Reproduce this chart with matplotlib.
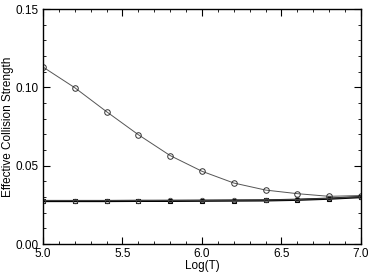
import matplotlib
matplotlib.use("Agg")
from matplotlib import pyplot as plt
from matplotlib.ticker import MultipleLocator

logt = [5.0, 5.2, 5.4, 5.6, 5.8, 6.0, 6.2, 6.4, 6.6, 6.8, 7.0]
ups_a = [0.113, 0.0998, 0.0845, 0.0698, 0.0565, 0.0465, 0.0390, 0.0345, 0.0322, 0.0305, 0.0310]
ups_b = [0.0275, 0.0275, 0.0275, 0.0276, 0.0276, 0.0277, 0.0278, 0.0279, 0.0283, 0.0290, 0.0300]
ups_c = [0.0278, 0.0278, 0.0278, 0.0278, 0.0279, 0.0279, 0.0280, 0.0281, 0.0285, 0.0292, 0.0302]

plt.rcParams['font.family'] = ['Liberation Sans', 'DejaVu Sans']

fig = plt.figure(figsize=(3.74, 2.74), dpi=100)
ax = fig.add_axes([0.115, 0.109, 0.85, 0.858])

ax.plot(logt, ups_a, color='#555555', lw=0.7, marker='o', ms=4,
        mfc='none', mec='#333333', mew=0.7)
ax.plot(logt, ups_b, color='black', lw=1.6, marker='s', ms=3.2,
        mfc='none', mec='black', mew=0.8)
ax.plot(logt, ups_c, color='#444444', lw=0.7, marker='o', ms=3.2,
        mfc='none', mec='#444444', mew=0.6)

ax.set_xlim(5.0, 7.0)
ax.set_ylim(0.0, 0.15)
ax.xaxis.set_major_locator(MultipleLocator(0.5))
ax.xaxis.set_minor_locator(MultipleLocator(0.1))
ax.yaxis.set_major_locator(MultipleLocator(0.05))
ax.yaxis.set_minor_locator(MultipleLocator(0.01))
ax.xaxis.set_major_formatter(plt.FormatStrFormatter('%.1f'))
ax.yaxis.set_major_formatter(plt.FormatStrFormatter('%.2f'))
ax.tick_params(which='both', direction='in', top=True, right=True, labelsize=8.5, pad=3)
ax.tick_params(which='major', length=5, width=0.8)
ax.tick_params(which='minor', length=2.5, width=0.6)
for s in ax.spines.values():
    s.set_linewidth(1.0)

ax.set_xlabel('Log(T)', fontsize=8.5, labelpad=0)
ax.set_ylabel('Effective Collision Strength', fontsize=8.5, labelpad=1)

fig.savefig('out.png', dpi=100)
